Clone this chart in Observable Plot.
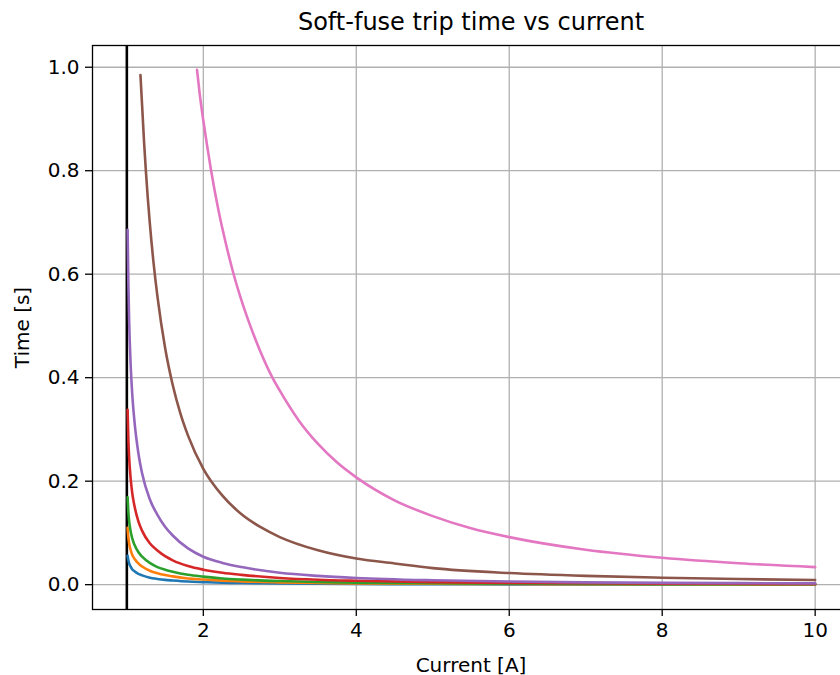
<!DOCTYPE html>
<html><head><meta charset="utf-8">
<script src="https://cdn.jsdelivr.net/npm/d3@7"></script>
<script src="https://cdn.jsdelivr.net/npm/@observablehq/plot@0.6"></script>
<style>
body{margin:0;background:#fff;}
#chart{width:840px;height:675px;overflow:hidden;}
#chart svg{overflow:hidden;}
</style></head><body><div id="chart"></div>
<script>
const title = "Soft-fuse trip time vs current";
const xLabel = "Current [A]";
const yLabel = "Time [s]";
const xTicks = [2, 4, 6, 8, 10];
const yTicks = [0, 0.2, 0.4, 0.6, 0.8, 1.0];
const ratedCurrent = [1];

const currentLow = [1.01, 1.02, 1.03, 1.05, 1.07, 1.1, 1.15, 1.2, 1.3, 1.4, 1.5, 1.6, 1.8, 2, 2.25, 2.5, 3, 3.5, 4, 5, 6, 7, 8, 9, 10];
const tripBlue   = [0.056, 0.047, 0.041, 0.035, 0.030, 0.026, 0.021, 0.018, 0.0135, 0.011, 0.0092, 0.008, 0.006, 0.005, 0.0039, 0.0032, 0.0023, 0.0017, 0.0013, 0.0009, 0.0006, 0.0005, 0.0004, 0.0003, 0.0003];
const tripOrange = [0.11, 0.091, 0.08, 0.067, 0.058, 0.05, 0.041, 0.035, 0.027, 0.022, 0.0185, 0.016, 0.012, 0.010, 0.0078, 0.0063, 0.0045, 0.0033, 0.0025, 0.0017, 0.0012, 0.0009, 0.0007, 0.0006, 0.0005];
const tripGreen  = [0.169, 0.14, 0.123, 0.103, 0.09, 0.077, 0.063, 0.054, 0.042, 0.034, 0.029, 0.025, 0.019, 0.0155, 0.012, 0.0098, 0.007, 0.0052, 0.004, 0.0027, 0.0019, 0.0014, 0.0011, 0.0009, 0.0007];
const tripRed    = [0.338, 0.28, 0.246, 0.205, 0.178, 0.152, 0.123, 0.104, 0.08, 0.066, 0.055, 0.047, 0.036, 0.029, 0.023, 0.019, 0.013, 0.0095, 0.0075, 0.005, 0.0035, 0.0027, 0.0021, 0.0017, 0.0014];
const tripPurple = [0.686, 0.58, 0.51, 0.425, 0.37, 0.315, 0.255, 0.215, 0.165, 0.135, 0.112, 0.095, 0.07, 0.054, 0.042, 0.034, 0.023, 0.017, 0.013, 0.0085, 0.006, 0.0045, 0.0035, 0.003, 0.0025];

const currentBrown = [1.178, 1.2, 1.225, 1.25, 1.3, 1.35, 1.4, 1.5, 1.6, 1.7, 1.8, 2, 2.25, 2.5, 2.75, 3, 3.5, 4, 4.5, 5, 6, 7, 8, 9, 10];
const tripBrown    = [0.985, 0.925, 0.856, 0.797, 0.699, 0.621, 0.557, 0.458, 0.386, 0.331, 0.288, 0.224, 0.172, 0.136, 0.111, 0.092, 0.0665, 0.0505, 0.041, 0.032, 0.0225, 0.017, 0.0135, 0.0108, 0.009];

const currentPink = [1.918, 1.95, 2, 2.05, 2.1, 2.2, 2.3, 2.4, 2.5, 2.6, 2.75, 2.9, 3, 3.25, 3.5, 3.75, 4, 4.5, 5, 5.5, 6, 7, 8, 9, 10];
const tripPink    = [0.995, 0.952, 0.897, 0.848, 0.802, 0.722, 0.656, 0.598, 0.549, 0.506, 0.449, 0.401, 0.375, 0.317, 0.272, 0.236, 0.2074, 0.163, 0.1325, 0.109, 0.0919, 0.0675, 0.052, 0.0414, 0.0339];

const series = [
  {current: currentLow, time: tripBlue, color: "#1f77b4"},
  {current: currentLow, time: tripOrange, color: "#ff7f0e"},
  {current: currentLow, time: tripGreen, color: "#2ca02c"},
  {current: currentLow, time: tripRed, color: "#d62728"},
  {current: currentLow, time: tripPurple, color: "#9467bd"},
  {current: currentBrown, time: tripBrown, color: "#8c564b"},
  {current: currentPink, time: tripPink, color: "#e377c2"}
];

const lineMarks = series.map(s => {
  const rows = s.current.map((c, i) => ({current: c, time: s.time[i]}));
  return Plot.line(rows, {x: "current", y: "time", stroke: s.color, strokeWidth: 2.6, curve: "monotone-x"});
});

const font = "DejaVu Sans, sans-serif";
const chart = Plot.plot({
  width: 840,
  height: 675,
  marginTop: 45,
  marginBottom: 66,
  marginLeft: 92,
  marginRight: -9,
  style: {fontFamily: font, background: "#fff", color: "#000", overflow: "hidden"},
  x: {domain: [0.551, 10.449]},
  y: {domain: [-0.048, 1.042]},
  marks: [
    Plot.gridX(xTicks, {stroke: "#b0b0b0", strokeOpacity: 1, strokeWidth: 1.3}),
    Plot.gridY(yTicks, {stroke: "#b0b0b0", strokeOpacity: 1, strokeWidth: 1.3}),
    Plot.ruleX(ratedCurrent, {stroke: "#000", strokeWidth: 2.6}),
    ...lineMarks,
    Plot.frame({stroke: "#000", strokeWidth: 1.3}),
    Plot.axisX({ticks: xTicks, tickSize: 7, tickPadding: 6, fontSize: 20, label: null, strokeWidth: 1.3}),
    Plot.axisY({ticks: yTicks, tickFormat: d3.format(".1f"), tickSize: 7, tickPadding: 6, fontSize: 20, label: null, strokeWidth: 1.3}),
    Plot.text([title], {frameAnchor: "top", dy: -33, fontSize: 24, fill: "#000"}),
    Plot.text([xLabel], {frameAnchor: "bottom", dy: 62, fontSize: 20, fill: "#000"}),
    Plot.text([yLabel], {frameAnchor: "left", dx: -70, rotate: -90, textAnchor: "middle", fontSize: 20, fill: "#000"})
  ]
});
document.getElementById("chart").appendChild(chart);
</script>
</body></html>
